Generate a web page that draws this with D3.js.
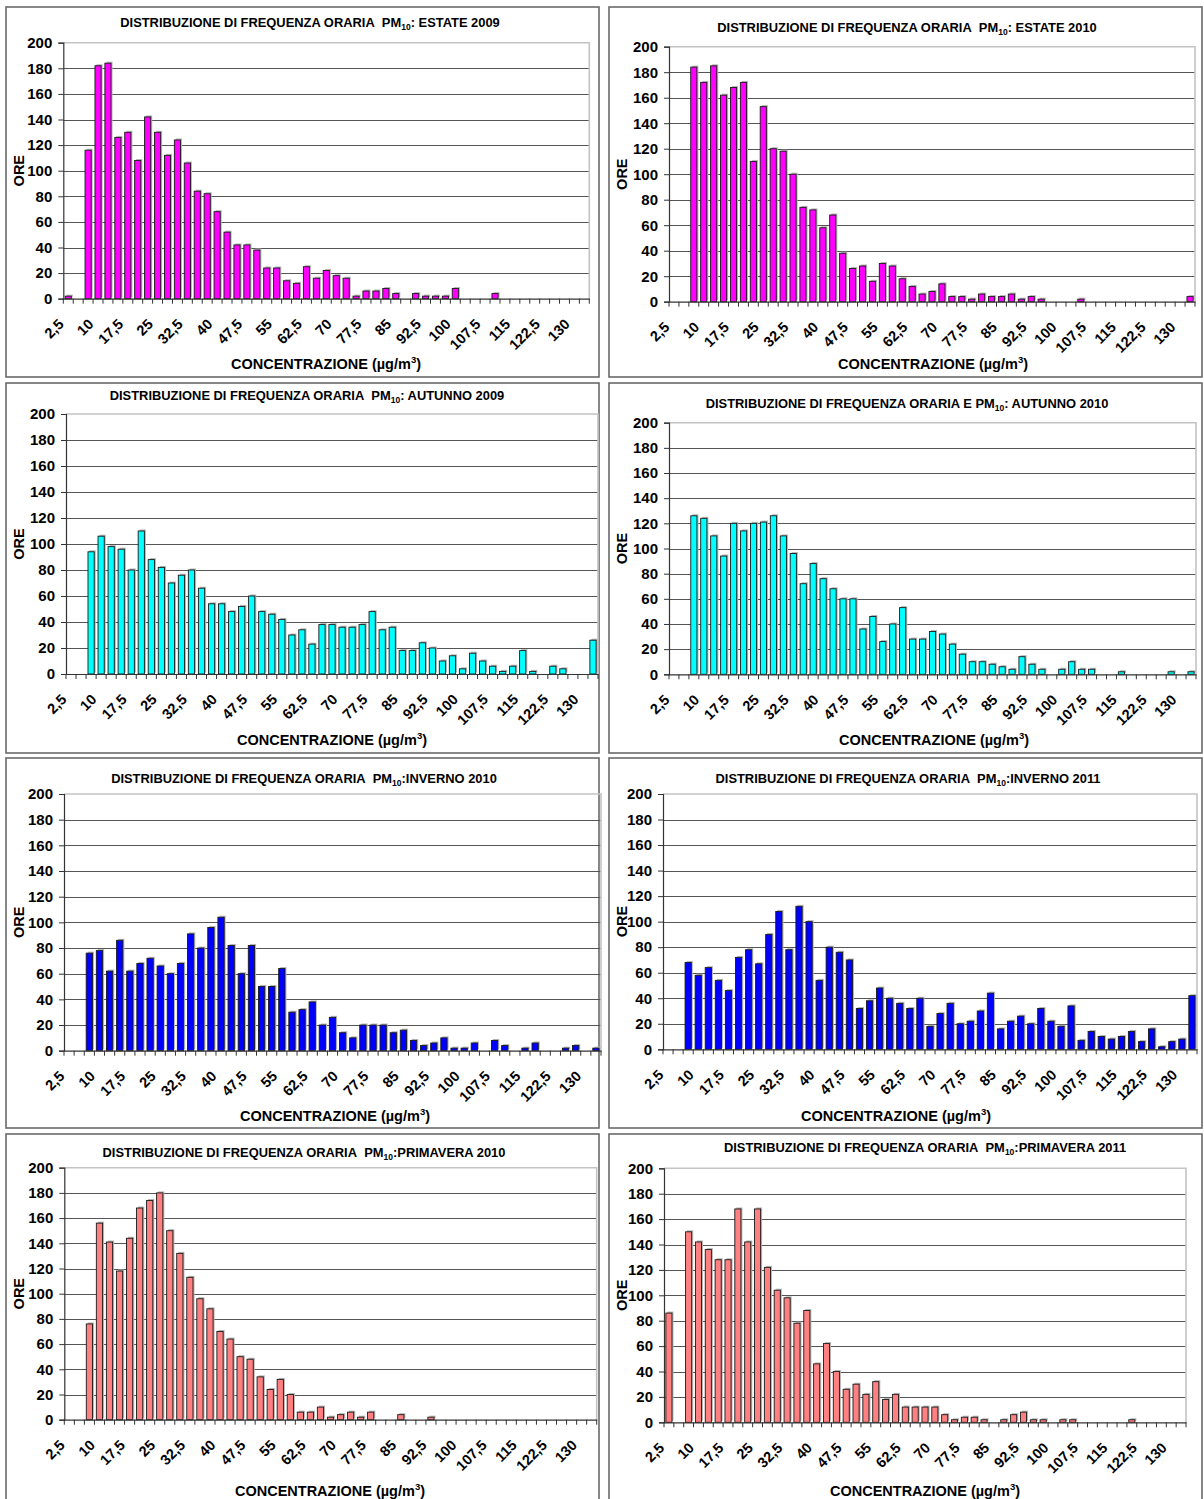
<!DOCTYPE html>
<html>
<head>
<meta charset="utf-8">
<script src="https://cdn.jsdelivr.net/npm/d3@7"></script>
<style>
  html, body { margin: 0; padding: 0; background: #fff; }
  svg { display: block; font-family: "Liberation Sans", Arial, sans-serif; font-weight: bold; }
</style>
</head>
<body>
<svg id="chart" width="1204" height="1499"></svg>
<script>
// Concentration classes (µg/m³), upper bound of each 2.5 bin
const categories = ["2,5","5","7,5","10","12,5","15","17,5","20","22,5","25","27,5","30","32,5","35","37,5","40","42,5","45","47,5","50","52,5","55","57,5","60","62,5","65","67,5","70","72,5","75","77,5","80","82,5","85","87,5","90","92,5","95","97,5","100","102,5","105","107,5","110","112,5","115","117,5","120","122,5","125","127,5","130","132,5"];

// Only every third class gets a label on the axis
const labelEvery = 3;
const yTicks = [0, 20, 40, 60, 80, 100, 120, 140, 160, 180, 200];

// Hours per concentration class, one list per season
const estate2009 = [2,0,116,182,184,126,130,108,142,130,112,124,106,84,82,68,52,42,42,38,24,24,14,12,25,16,22,18,16,2,6,6,8,4,0,4,2,2,2,8,0,0,0,4,0,0,0,0,0,0,0,0,0];
const estate2010 = [0,0,184,172,185,162,168,172,110,153,120,118,100,74,72,58,68,38,26,28,16,30,28,18,12,6,8,14,4,4,2,6,4,4,6,2,4,2,0,0,0,2,0,0,0,0,0,0,0,0,0,0,4];
const autunno2009 = [0,0,94,106,98,96,80,110,88,82,70,76,80,66,54,54,48,52,60,48,46,42,30,34,23,38,38,36,36,38,48,34,36,18,18,24,20,10,14,4,16,10,6,2,6,18,2,0,6,4,0,0,26];
const autunno2010 = [0,0,126,124,110,94,120,114,120,121,126,110,96,72,88,76,68,60,60,36,46,26,40,53,28,28,34,32,24,16,10,10,8,6,4,14,8,4,0,4,10,4,4,0,0,2,0,0,0,0,2,0,2];
const inverno2010 = [0,0,76,78,62,86,62,68,72,66,60,68,91,80,96,104,82,60,82,50,50,64,30,32,38,20,26,14,10,20,20,20,14,16,8,4,6,10,2,2,6,0,8,4,0,2,6,0,0,2,4,0,2];
const inverno2011 = [0,0,68,58,64,54,46,72,78,67,90,108,78,112,100,54,80,76,70,32,38,48,40,36,32,40,18,28,36,20,22,30,44,16,22,26,20,32,22,18,34,7,14,10,8,10,14,6,16,2,6,8,42];
const primavera2010 = [0,0,76,156,141,118,144,168,174,180,150,132,113,96,88,70,64,50,48,34,24,32,20,6,6,10,2,4,6,2,6,0,0,4,0,0,2,0,0,0,0,0,0,0,0,0,0,0,0,0,0,0,0];
const primavera2011 = [86,0,150,142,136,128,128,168,142,168,122,104,98,78,88,46,62,40,26,30,22,32,18,22,12,12,12,12,6,2,4,4,2,0,2,6,8,2,2,0,2,2,0,0,0,0,0,2,0,0,0,0,0];

// Panel titles: text before the PM subscript, and the season after it
const titleHeads = [
  "DISTRIBUZIONE DI FREQUENZA ORARIA\u00a0\u00a0PM",
  "DISTRIBUZIONE DI FREQUENZA ORARIA\u00a0\u00a0PM",
  "DISTRIBUZIONE DI FREQUENZA ORARIA\u00a0\u00a0PM",
  "DISTRIBUZIONE DI FREQUENZA ORARIA E PM",
  "DISTRIBUZIONE DI FREQUENZA ORARIA\u00a0\u00a0PM",
  "DISTRIBUZIONE DI FREQUENZA ORARIA\u00a0\u00a0PM",
  "DISTRIBUZIONE DI FREQUENZA ORARIA\u00a0\u00a0PM",
  "DISTRIBUZIONE DI FREQUENZA ORARIA\u00a0\u00a0PM"
];
const titleTails = [": ESTATE 2009", ": ESTATE 2010", ": AUTUNNO 2009", ": AUTUNNO 2010",
                    ":INVERNO 2010", ":INVERNO 2011", ":PRIMAVERA 2010", ":PRIMAVERA 2011"];
const seriesList = [estate2009, estate2010, autunno2009, autunno2010,
                    inverno2010, inverno2011, primavera2010, primavera2011];
const barColors = ["#FF00FF", "#FF00FF", "#00FFFF", "#00FFFF",
                   "#0000FF", "#0000FF", "#FF8080", "#FF8080"];
const yTitle = "ORE";

// Frame and plot-area geometry of each panel
const layout = [
  { fx: 6,   fy: 7,    x0: 63.3, x1: 589.3, yT: 42.7,   y0: 298.7,  tx: 310, ty: 27,   ax: 326, ay: 369 },
  { fx: 609, fy: 7,    x0: 669,  x1: 1195,  yT: 46.7,   y0: 301.7,  tx: 907, ty: 32,   ax: 933, ay: 369 },
  { fx: 6,   fy: 383,  x0: 66,   x1: 598,   yT: 414,    y0: 674,    tx: 307, ty: 400,  ax: 332, ay: 745 },
  { fx: 609, fy: 383,  x0: 669,  x1: 1196,  yT: 422.7,  y0: 674.3,  tx: 907, ty: 408,  ax: 934, ay: 745 },
  { fx: 6,   fy: 758,  x0: 64,   x1: 601,   yT: 794,    y0: 1050.7, tx: 304, ty: 783,  ax: 335, ay: 1121 },
  { fx: 609, fy: 758,  x0: 663,  x1: 1197,  yT: 794,    y0: 1049.3, tx: 908, ty: 783,  ax: 896, ay: 1121 },
  { fx: 6,   fy: 1134, x0: 64.3, x1: 596.7, yT: 1167.7, y0: 1419.7, tx: 304, ty: 1157, ax: 330, ay: 1496 },
  { fx: 609, fy: 1134, x0: 664,  x1: 1186,  yT: 1168.3, y0: 1422.3, tx: 925, ty: 1152, ax: 925, ay: 1496 }
];
const frameW = 593, frameH = 370;

const svg = d3.select("#chart");

seriesList.forEach((values, i) => {
  const L = layout[i];
  const g = svg.append("g");

  // panel frame
  g.append("rect")
    .attr("x", L.fx).attr("y", L.fy)
    .attr("width", frameW).attr("height", frameH)
    .attr("fill", "#fff").attr("stroke", "#6a6a6a").attr("stroke-width", 1.6);

  const x = d3.scaleBand()
    .domain(categories)
    .range([L.x0, L.x1])
    .paddingInner(0.38)
    .paddingOuter(0.19);
  const y = d3.scaleLinear().domain([0, 200]).range([L.y0, L.yT]);

  const step = x.step();
  const gap = (step - x.bandwidth()) / 2;

  // horizontal gridlines
  g.append("g").selectAll("line")
    .data(yTicks.filter(t => t > 0 && t < 200))
    .join("line")
    .attr("x1", L.x0).attr("x2", L.x1)
    .attr("y1", d => Math.round(y(d)) + 0.5).attr("y2", d => Math.round(y(d)) + 0.5)
    .attr("stroke", "#555").attr("stroke-width", 1);

  // plot-area border (top and right)
  g.append("path")
    .attr("d", `M${L.x0},${y(200)}H${L.x1}V${L.y0}`)
    .attr("fill", "none").attr("stroke", "#c4c4c4").attr("stroke-width", 1.6);

  // bar shadows, then bars
  const bars = categories.map((c, k) => ({ c, v: values[k] })).filter(d => d.v > 0);
  g.append("g").selectAll("rect")
    .data(bars)
    .join("rect")
    .attr("x", d => x(d.c) + 1.5)
    .attr("y", d => y(d.v) - 1.5)
    .attr("width", x.bandwidth())
    .attr("height", d => L.y0 - y(d.v))
    .attr("fill", "#b5b5b5");
  g.append("g").selectAll("rect")
    .data(bars)
    .join("rect")
    .attr("x", d => x(d.c))
    .attr("y", d => y(d.v))
    .attr("width", x.bandwidth())
    .attr("height", d => L.y0 - y(d.v))
    .attr("fill", barColors[i])
    .attr("stroke", "#1a1a1a").attr("stroke-width", 0.9);

  // y axis
  const yAxis = g.append("g")
    .attr("transform", `translate(${L.x0},0)`)
    .call(d3.axisLeft(y).tickValues(yTicks).tickSize(5).tickPadding(6));
  yAxis.select(".domain").attr("stroke", "#333").attr("stroke-width", 1.2);
  yAxis.selectAll(".tick line").attr("stroke", "#333");
  yAxis.selectAll(".tick text")
    .attr("font-family", "'Liberation Sans', Arial, sans-serif")
    .attr("font-weight", "bold").attr("font-size", 15).attr("fill", "#000");

  // x axis: line, ticks on class boundaries, rotated labels
  const xAxis = g.append("g")
    .attr("transform", `translate(0,${L.y0})`)
    .call(d3.axisBottom(x).tickSize(0).tickPadding(0)
      .tickFormat((d, k) => (k % labelEvery === 0 ? d : "")));
  xAxis.select(".domain").attr("stroke", "#333").attr("stroke-width", 1.2);
  xAxis.selectAll(".tick text")
    .attr("font-family", "'Liberation Sans', Arial, sans-serif")
    .attr("font-weight", "bold").attr("font-size", 14.5).attr("fill", "#000")
    .attr("text-anchor", "end")
    .attr("dy", "0.72em")
    .attr("transform", `translate(-11,19) rotate(-45)`);

  const bounds = categories.map(c => x(c) - gap).concat([x(categories[categories.length - 1]) + x.bandwidth() + gap]);
  g.append("g").selectAll("line")
    .data(bounds)
    .join("line")
    .attr("x1", d => d).attr("x2", d => d)
    .attr("y1", L.y0).attr("y2", L.y0 + 5)
    .attr("stroke", "#333").attr("stroke-width", 1);

  // panel title with PM10 subscript
  const t = g.append("text")
    .attr("x", L.tx).attr("y", L.ty)
    .attr("text-anchor", "middle")
    .attr("font-size", 12.9).attr("fill", "#000");
  t.append("tspan").text(titleHeads[i]);
  t.append("tspan").attr("font-size", 8.5).attr("dy", 3).text("10");
  t.append("tspan").attr("dy", -3).text(titleTails[i]);

  // y title
  g.append("text")
    .attr("transform", `translate(${L.fx + 13},${(L.yT + L.y0) / 2}) rotate(-90)`)
    .attr("text-anchor", "middle").attr("dy", "0.35em")
    .attr("font-size", 14.5).attr("fill", "#000")
    .text(yTitle);

  // x title with superscript 3
  const xt = g.append("text")
    .attr("x", L.ax).attr("y", L.ay)
    .attr("text-anchor", "middle")
    .attr("font-size", 14.5).attr("fill", "#000");
  xt.append("tspan").text("CONCENTRAZIONE (\u00b5g/m");
  xt.append("tspan").attr("font-size", 9.5).attr("dy", -6).text("3");
  xt.append("tspan").attr("dy", 6).text(")");
});
</script>
</body>
</html>
